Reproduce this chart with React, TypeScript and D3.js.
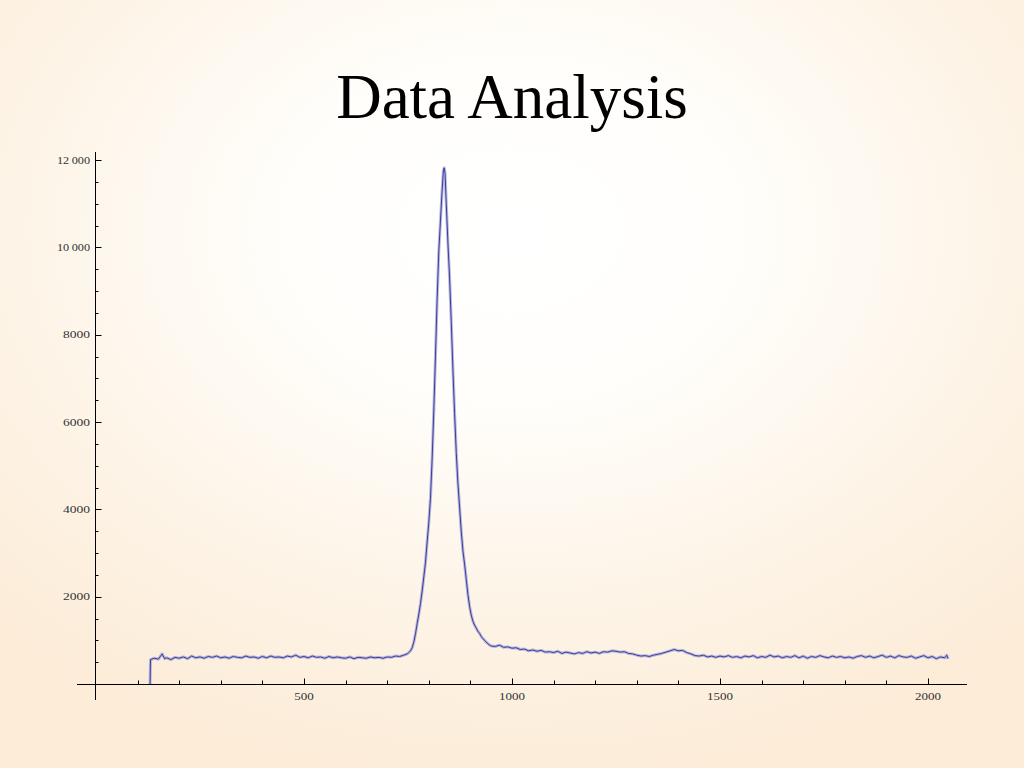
import React from "react";
import * as d3 from "d3";

const title = "Data Analysis";

const xTickMajor = [500, 1000, 1500, 2000];
const xTickLabels = ["500", "1000", "1500", "2000"];
const xTickMinor = [100, 200, 300, 400, 600, 700, 800, 900, 1100, 1200, 1300, 1400, 1600, 1700, 1800, 1900];
const yTickMajor = [2000, 4000, 6000, 8000, 10000, 12000];
const yTickLabels = ["2000", "4000", "6000", "8000", "10\u2009000", "12\u2009000"];
const yTickMinor = [500, 1000, 1500, 2500, 3000, 3500, 4500, 5000, 5500, 6500, 7000, 7500, 8500, 9000, 9500, 10500, 11000, 11500];

const leftBaseline: [number, number][] = [
  [130, 0], [131, 560], [140, 590], [150, 570], [159, 690], [165, 580], [170, 600], [180, 560],
  [190, 610], [200, 590], [210, 620], [220, 580], [230, 640], [240, 600], [250, 620], [260, 590],
  [270, 630], [280, 610], [290, 640], [300, 600], [310, 620], [320, 590], [330, 630], [340, 610],
  [350, 600], [360, 640], [370, 610], [380, 620], [390, 590], [400, 630], [410, 600], [420, 640],
  [430, 610], [440, 620], [450, 600], [460, 640], [470, 620], [480, 660], [490, 610], [500, 630],
  [510, 600], [520, 640], [530, 610], [540, 620], [550, 590], [560, 630], [570, 600], [580, 620],
  [590, 600], [600, 590], [610, 620], [620, 580], [630, 610], [640, 600], [650, 590], [660, 620],
  [670, 600], [680, 610], [690, 590], [700, 620], [710, 610], [720, 640], [730, 630], [740, 660],
  [748, 690],
];

const peakRegion: [number, number][] = [
  [752, 720], [756, 760], [760, 830], [764, 960], [768, 1150], [772, 1380], [776, 1600], [780, 1840],
  [784, 2130], [788, 2450], [792, 2780], [796, 3250], [800, 3700], [804, 4250], [808, 5150], [812, 6250],
  [816, 7500], [820, 8800], [824, 9900], [828, 10600], [832, 11300], [835, 11750], [837, 11820], [839, 11700],
  [842, 11000], [846, 10100], [850, 9300], [854, 8300], [858, 7200], [862, 6200], [866, 5300], [870, 4600],
  [874, 4050], [878, 3500], [882, 3050], [886, 2750], [890, 2400], [894, 2050], [898, 1780], [902, 1580],
  [906, 1440], [910, 1350], [914, 1280], [918, 1210], [922, 1160], [926, 1090], [930, 1040], [935, 990],
  [940, 940], [945, 900],
];

const tail: [number, number][] = [
  [950, 870], [960, 860], [970, 890], [980, 840], [990, 850], [1000, 820], [1010, 830], [1020, 790],
  [1030, 800], [1040, 760], [1050, 780], [1060, 750], [1070, 770], [1080, 730], [1090, 740], [1100, 720],
  [1110, 750], [1120, 700], [1130, 730], [1140, 710], [1150, 690], [1160, 720], [1170, 700], [1180, 740],
  [1190, 710], [1200, 730], [1210, 700], [1220, 740], [1230, 730], [1240, 760], [1250, 750], [1260, 730],
  [1270, 740], [1280, 700], [1290, 690], [1300, 660], [1310, 640], [1320, 650], [1330, 630], [1340, 660],
  [1350, 680], [1360, 700], [1370, 730], [1380, 760], [1390, 790], [1400, 760], [1410, 770], [1420, 720],
  [1430, 690], [1440, 650], [1450, 640], [1460, 660], [1470, 620], [1480, 640], [1490, 610], [1500, 640],
  [1510, 620], [1520, 650], [1530, 610], [1540, 630], [1550, 600], [1560, 640], [1570, 620], [1580, 650],
  [1590, 600], [1600, 630], [1610, 610], [1620, 660], [1630, 620], [1640, 640], [1650, 600], [1660, 630],
  [1670, 610], [1680, 650], [1690, 600], [1700, 640], [1710, 590], [1720, 630], [1730, 610], [1740, 650],
  [1750, 620], [1760, 600], [1770, 640], [1780, 610], [1790, 630], [1800, 600], [1810, 620], [1820, 590],
  [1830, 630], [1840, 650], [1850, 610], [1860, 640], [1870, 600], [1880, 630], [1890, 660], [1900, 610],
  [1910, 640], [1920, 600], [1930, 650], [1940, 620], [1950, 610], [1960, 640], [1970, 590], [1980, 620],
  [1990, 650], [2000, 600], [2010, 630], [2020, 580], [2030, 620], [2040, 600], [2045, 660], [2048, 580],
];

const W = 1024;
const H = 768;

export default function App() {
  const x = d3.scaleLinear().domain([0, 2000]).range([96, 928]);
  const y = d3.scaleLinear().domain([0, 12000]).range([684, 160]);
  const data = [...leftBaseline, ...peakRegion, ...tail];
  const line = d3
    .line<[number, number]>()
    .x((d) => x(d[0]))
    .y((d) => y(d[1]));
  const path = line(data) || "";
  const ax = Math.round(x(0)) - 0.5;
  const ay = Math.round(y(0)) + 0.5;
  const font = "'Liberation Serif', 'Times New Roman', serif";

  return (
    <svg
      width={W}
      height={H}
      style={{ position: "absolute", left: 0, top: 0, display: "block" }}
    >
      <defs>
        <radialGradient id="bg" cx="50%" cy="30%" r="72%">
          <stop offset="0" stopColor="#ffffff" />
          <stop offset="0.3" stopColor="#fffefb" />
          <stop offset="0.75" stopColor="#fdf2e3" />
          <stop offset="1" stopColor="#fcecd8" />
        </radialGradient>
      </defs>
      <rect x={0} y={0} width={W} height={H} fill="url(#bg)" />
      <text
        x={512}
        y={118}
        textAnchor="middle"
        fontFamily={font}
        fontSize={63}
        fill="#000"
      >
        {title}
      </text>

      {/* axes */}
      <line x1={77} x2={967} y1={ay} y2={ay} stroke="#000" strokeWidth={1} />
      <line x1={ax} x2={ax} y1={152} y2={700} stroke="#000" strokeWidth={1} />

      {xTickMinor.map((t) => (
        <line key={"xm" + t} x1={Math.round(x(t)) + 0.5} x2={Math.round(x(t)) + 0.5} y1={ay} y2={ay - 4} stroke="#000" />
      ))}
      {xTickMajor.map((t, i) => (
        <g key={"xM" + t}>
          <line x1={Math.round(x(t)) + 0.5} x2={Math.round(x(t)) + 0.5} y1={ay} y2={ay - 6} stroke="#000" />
          <text
            x={x(t)}
            y={700}
            textAnchor="middle"
            fontFamily={font}
            fontSize={10}
            fill="#333"
            textLength={xTickLabels[i].length * 6.5}
            lengthAdjust="spacingAndGlyphs"
          >
            {xTickLabels[i]}
          </text>
        </g>
      ))}
      {yTickMinor.map((t) => (
        <line key={"ym" + t} x1={ax} x2={ax + 3} y1={Math.round(y(t)) + 0.5} y2={Math.round(y(t)) + 0.5} stroke="#000" />
      ))}
      {yTickMajor.map((t, i) => (
        <g key={"yM" + t}>
          <line x1={ax} x2={ax + 6} y1={Math.round(y(t)) + 0.5} y2={Math.round(y(t)) + 0.5} stroke="#000" />
          <text
            x={90}
            y={y(t) + 3.5}
            textAnchor="end"
            fontFamily={font}
            fontSize={10}
            fill="#333"
            textLength={t >= 10000 ? 33 : 27}
            lengthAdjust="spacingAndGlyphs"
          >
            {yTickLabels[i]}
          </text>
        </g>
      ))}

      <path d={path} fill="none" stroke="#a9a9d8" strokeOpacity={0.8} strokeWidth={3} strokeLinejoin="round" />
      <path d={path} fill="none" stroke="#3b3e9a" strokeWidth={1} strokeLinejoin="round" />
    </svg>
  );
}
